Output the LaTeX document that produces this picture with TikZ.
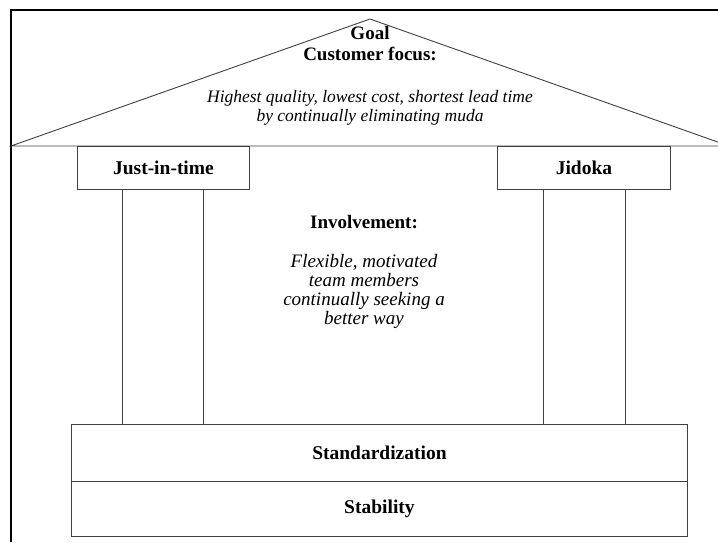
\documentclass[tikz,border=0pt]{standalone}
\usepackage{fontspec}
\setmainfont{Liberation Serif}
\begin{document}
\begin{tikzpicture}[x=1pt,y=-1pt,
  frameline/.style={line width=1.3pt,black},
  part/.style={draw=black!75,line width=0.9pt},
  labelbox/.style={part,inner sep=0pt,anchor=north west,font=\bfseries\fontsize{19.5}{20}\selectfont},
  heading/.style={font=\bfseries\fontsize{19}{21}\selectfont,align=center,inner sep=0pt},
  body/.style={font=\itshape\fontsize{17.5}{19}\selectfont,align=center,inner sep=0pt}]
\useasboundingbox (0,0) rectangle (718,542);
\clip (0,0) rectangle (718,542);
% outer frame (left and top edges)
\coordinate (ftop) at (11,10);
\coordinate (fbot) at (11,542);
\coordinate (fright) at (718,10);
\draw[frameline] (fbot) -- (ftop) -- (fright);
% roof
\coordinate (apex) at (370,19);
\coordinate (eaveL) at (11,146);
\coordinate (eaveR) at (729,146);
\draw[part] (eaveL) -- (apex) -- (eaveR) -- cycle;
\node[heading] (goal) at (370,44) {Goal\\Customer focus:};
\node[body] (goaltext) at (370,108) {Highest quality, lowest cost, shortest lead time\\by continually eliminating muda};
% pillar caps
\node[labelbox,minimum width=172pt,minimum height=43pt] (jit) at (77,146) {Just-in-time};
\node[labelbox,minimum width=173pt,minimum height=43pt] (jidoka) at (497,146) {Jidoka};
% foundation
\node[labelbox,minimum width=616pt,minimum height=57pt] (std) at (71,424) {Standardization};
\node[labelbox,minimum width=616pt,minimum height=55pt] (stab) at (71,481) {Stability};
% pillars
\foreach \n/\xa/\xb in {jit/122/203, jidoka/543/625}{
  \draw[part] (\xa,189) -- (\xa,424);
  \draw[part] (\xb,189) -- (\xb,424);
}
% centre text
\node[heading] (inv) at (364,222) {Involvement:};
\node[body,font=\itshape\fontsize{19}{19}\selectfont] (invtext) at (364,291) {Flexible, motivated\\team members\\continually seeking a\\better way};
\end{tikzpicture}
\end{document}
